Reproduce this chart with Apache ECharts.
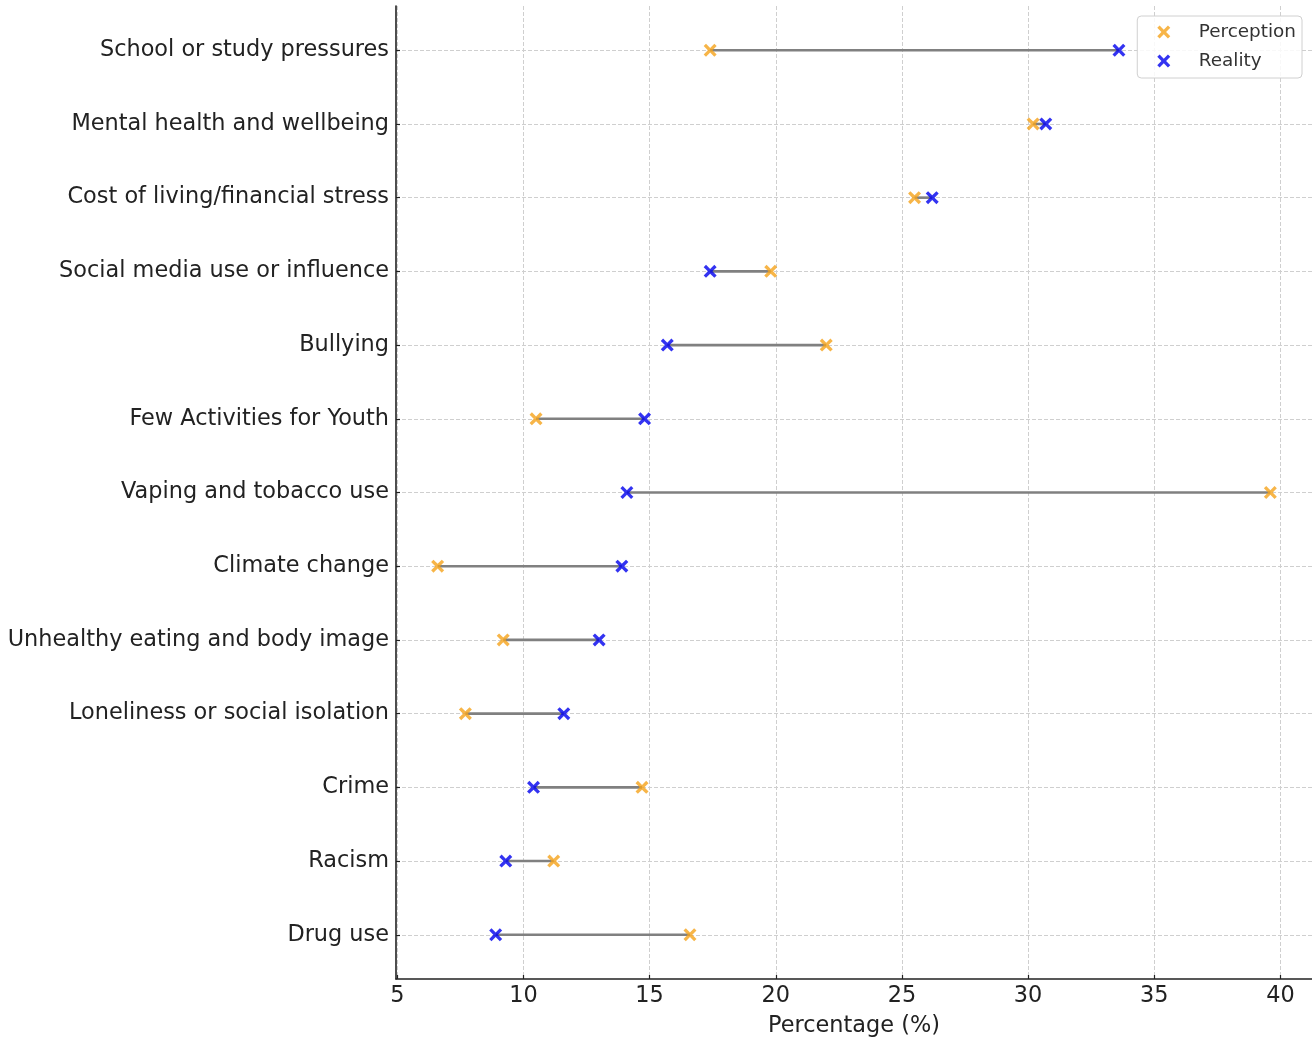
<!DOCTYPE html>
<html>
<head>
<meta charset="utf-8">
<script src="https://cdn.jsdelivr.net/npm/echarts@6/dist/echarts.min.js"></script>
<style>
html,body{margin:0;padding:0;background:#fff;}
#chart{width:1312px;height:1042px;}
</style>
</head>
<body>
<div id="chart"></div>
<script>
// Categories listed top to bottom
const categories = [
  'School or study pressures',
  'Mental health and wellbeing',
  'Cost of living/financial stress',
  'Social media use or influence',
  'Bullying',
  'Few Activities for Youth',
  'Vaping and tobacco use',
  'Climate change',
  'Unhealthy eating and body image',
  'Loneliness or social isolation',
  'Crime',
  'Racism',
  'Drug use'
];
const perception = [17.4, 30.2, 25.5, 19.8, 22.0, 10.5, 39.6, 6.6, 9.2, 7.7, 14.7, 11.2, 16.6];
const reality    = [33.6, 30.7, 26.2, 17.4, 15.7, 14.8, 14.1, 13.9, 13.0, 11.6, 10.4, 9.3, 8.9];
const xTicks = [5, 10, 15, 20, 25, 30, 35, 40];
const yTicks = categories.map((c, i) => i);

const FONT = 'DejaVu Sans';
const TEXT = '#222';
const ORANGE = '#F5A31A';
const BLUE = '#0000EE';
const X_PATH = 'path://M0,1.8 L1.8,0 L5,3.2 L8.2,0 L10,1.8 L6.8,5 L10,8.2 L8.2,10 L5,6.8 L1.8,10 L0,8.2 L3.2,5 Z';
const gridStyle = { color: '#cfcfcf', width: 1, type: [4, 2] };

const chart = echarts.init(document.getElementById('chart'), null, { renderer: 'canvas' });

const option = {
  backgroundColor: '#fff',
  animation: false,
  grid: { left: 396, right: 0, top: 6, bottom: 60, containLabel: false },
  legend: {
    data: ['Perception', 'Reality'],
    orient: 'vertical',
    right: 10,
    top: 16,
    itemWidth: 36,
    itemHeight: 13,
    itemGap: 11,
    padding: [7, 6, 8, 20],
    borderColor: '#d0d0d0',
    borderWidth: 1,
    borderRadius: 4,
    backgroundColor: 'rgba(255,255,255,0.85)',
    textStyle: { fontFamily: FONT, fontSize: 18.4, color: '#333', padding: [0, 0, 0, 12] }
  },
  xAxis: {
    type: 'value',
    min: 4.95,
    max: 41.25,
    z: 4,
    name: 'Percentage (%)',
    nameLocation: 'middle',
    nameGap: 36,
    nameTextStyle: { fontFamily: FONT, fontSize: 22.4, color: TEXT },
    axisLine: { show: true, onZero: false, lineStyle: { color: '#222', width: 1.6 } },
    axisTick: { show: true, inside: true, length: 4, customValues: xTicks, lineStyle: { color: '#222', width: 1.2 } },
    axisLabel: { customValues: xTicks, fontFamily: FONT, fontSize: 22.4, color: TEXT, margin: 6 },
    splitLine: { show: false }
  },
  yAxis: {
    type: 'value',
    inverse: true,
    min: -0.6,
    max: 12.6,
    z: 4,
    axisLine: { show: true, onZero: false, lineStyle: { color: '#222', width: 1.6 } },
    axisTick: { show: true, inside: true, length: 4, customValues: yTicks, lineStyle: { color: '#222', width: 1.2 } },
    axisLabel: {
      customValues: yTicks,
      formatter: v => categories[Math.round(v)],
      fontFamily: FONT, fontSize: 22.4, color: TEXT, margin: 7
    },
    splitLine: { show: false }
  },
  series: [
    {
      name: 'gap',
      type: 'custom',
      z: 2,
      silent: true,
      encode: { x: [0, 1], y: 2 },
      data: categories.map((c, i) => [perception[i], reality[i], i]),
      renderItem: function (params, api) {
        const y = api.value(2);
        const a = api.coord([api.value(0), y]);
        const b = api.coord([api.value(1), y]);
        return {
          type: 'line',
          shape: { x1: a[0], y1: a[1], x2: b[0], y2: b[1] },
          style: { stroke: '#808080', lineWidth: 2.6 }
        };
      },
      markLine: {
        silent: true,
        z: 1,
        symbol: ['none', 'none'],
        label: { show: false },
        lineStyle: gridStyle,
        data: xTicks.map(v => ({ xAxis: v })).concat(yTicks.map(v => ({ yAxis: v })))
      }
    },
    {
      name: 'Perception',
      type: 'scatter',
      z: 3,
      symbol: X_PATH,
      symbolSize: 13,
      itemStyle: { color: ORANGE },
      data: perception.map((v, i) => [v, i])
    },
    {
      name: 'Reality',
      type: 'scatter',
      z: 3,
      symbol: X_PATH,
      symbolSize: 13,
      itemStyle: { color: BLUE },
      data: reality.map((v, i) => [v, i])
    }
  ]
};
chart.setOption(option);
</script>
</body>
</html>
